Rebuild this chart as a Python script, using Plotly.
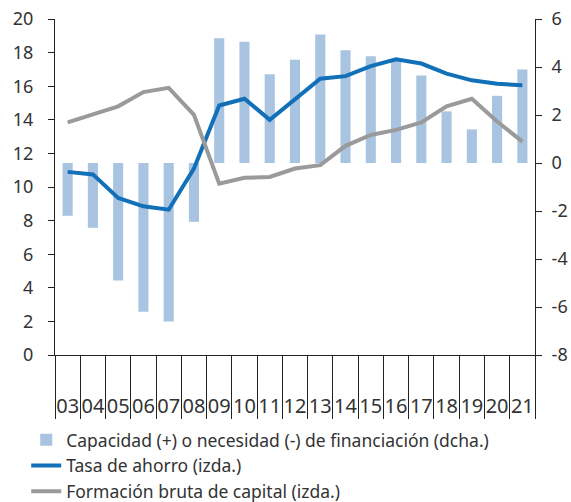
import plotly.graph_objects as go

years = ["03", "04", "05", "06", "07", "08", "09", "10", "11", "12",
         "13", "14", "15", "16", "17", "18", "19", "20", "21"]
capacidad = [-2.2, -2.7, -4.9, -6.2, -6.6, -2.45, 5.2, 5.05, 3.7, 4.3,
             5.35, 4.7, 4.45, 4.3, 3.65, 2.15, 1.4, 2.8, 3.9]
tasa_ahorro = [10.9, 10.75, 9.35, 8.85, 8.65, 11.1, 14.85, 15.25, 14.0, 15.2,
               16.45, 16.6, 17.2, 17.6, 17.35, 16.75, 16.35, 16.15, 16.05]
fbc = [13.85, 14.3, 14.8, 15.65, 15.9, 14.3, 10.2, 10.55, 10.6, 11.1,
       11.3, 12.45, 13.1, 13.4, 13.85, 14.8, 15.25, 13.9, 12.7]
right_tickvals = [-8, -6, -4, -2, 0, 2, 4, 6]
right_ticktext = ["-8", "-6", "-4", "-2", "0", "2", "4", "6"]

FONT = "Noto Sans"
TXT = "#333333"

fig = go.Figure()
fig.add_trace(go.Bar(
    x=years, y=capacidad, yaxis="y",
    name="Capacidad (+) o necesidad (-) de financiación (dcha.)",
    marker=dict(color="#a9c4e0", line=dict(width=0)),
))
fig.add_trace(go.Scatter(
    x=years, y=tasa_ahorro, yaxis="y2", mode="lines",
    name="Tasa de ahorro (izda.)",
    line=dict(color="#1270b8", width=4),
))
fig.add_trace(go.Scatter(
    x=years, y=fbc, yaxis="y2", mode="lines",
    name="Formación bruta de capital (izda.)",
    line=dict(color="#9a9a9a", width=4),
))

fig.update_layout(
    width=571, height=502,
    margin=dict(l=55, r=36, t=19, b=147, autoexpand=False),
    paper_bgcolor="white", plot_bgcolor="white",
    font=dict(family=FONT, size=18, color=TXT),
    bargap=0.6,
    showlegend=True,
    legend=dict(
        x=-0.06, xanchor="left",
        y=-0.199, yanchor="top",
        orientation="v", font=dict(size=17.5, color=TXT),
        tracegroupgap=0, itemwidth=30,
        bgcolor="rgba(0,0,0,0)",
    ),
    xaxis=dict(
        type="category", tickson="boundaries", ticks="outside",
        ticklen=63, tickwidth=1, tickcolor="#222",
        showline=True, linecolor="#222", linewidth=1,
        showgrid=False, ticklabelstandoff=33, tickangle=0,
        tickfont=dict(size=20, color=TXT), automargin=False,
        ticklabeloverflow="allow",
    ),
    yaxis=dict(
        side="right", range=[-8, 6],
        tickmode="array", tickvals=right_tickvals, ticktext=right_ticktext,
        ticks="outside", ticklen=6, tickcolor="#222",
        showline=True, linecolor="#222", linewidth=1,
        showgrid=False, zeroline=False,
        ticklabelstandoff=6, automargin=False,
        ticklabeloverflow="allow",
    ),
    yaxis2=dict(
        side="left", overlaying="y", range=[0, 20], dtick=2,
        ticks="outside", ticklen=6, tickcolor="#222",
        showline=True, linecolor="#222", linewidth=1,
        showgrid=False, zeroline=False,
        ticklabelstandoff=11, automargin=False,
        ticklabeloverflow="allow",
    ),
)

# remove the default 8px page margin so the figure fills the window exactly
fig.write_html(
    "out.html",
    config={"displayModeBar": False},
    post_script="document.body.style.margin='0';"
                "document.documentElement.style.overflow='hidden';",
)
